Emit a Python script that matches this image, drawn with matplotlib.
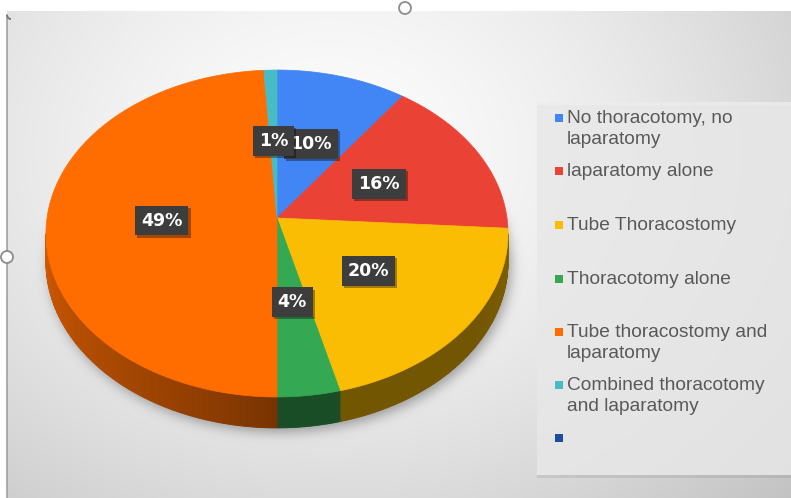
import numpy as np
import matplotlib
matplotlib.use("Agg")
import matplotlib.pyplot as plt
from matplotlib.patches import Polygon, Rectangle, Circle, Arc
from matplotlib.collections import PolyCollection
from matplotlib.path import Path
from matplotlib.colors import to_rgb
import matplotlib.patheffects as pe

# ---- data -------------------------------------------------------------
categories = [
    "No thoracotomy, no\nlaparatomy",
    "laparatomy alone",
    "Tube Thoracostomy",
    "Thoracotomy alone",
    "Tube thoracostomy and\nlaparatomy",
    "Combined thoracotomy\nand laparatomy",
    "",
]
shares = [10, 16, 20, 4, 49, 1, 0]
colors = ["#4285F4", "#EA4335", "#FBBC04", "#34A853", "#FF6D01", "#46BDC6", "#1B4C9E"]

# ---- canvas (pixel coordinates, y downwards) ---------------------------
W, H = 791, 498
fig = plt.figure(figsize=(W / 100, H / 100), dpi=100)
ax = fig.add_axes([0, 0, 1, 1])
ax.set_xlim(0, W)
ax.set_ylim(H, 0)
ax.axis("off")

# chart area with a soft radial gradient
X0, Y0 = 7, 11
yy, xx = np.mgrid[0:H, 0:W] + 0.5
dist = np.sqrt(((xx - 330) / 520) ** 2 + ((yy - 150) / 420) ** 2)
lum = 0.99 - 0.17 * np.clip(dist, 0, 1.25) ** 1.5
bg = np.dstack([lum, lum, lum])
bg[yy < Y0] = 1.0
bg[xx < X0] = 1.0
ax.imshow(bg, extent=(0, W, H, 0), zorder=0, interpolation="bilinear")
ax.plot([X0, X0], [Y0 + 4, H], color="#a0a0a0", lw=1.2, zorder=1)
ax.add_patch(Arc((X0 + 4, Y0 + 4), 8, 8, theta1=90, theta2=180,
                 color="#7a7a7a", lw=1.4, zorder=1))

# ---- 3-D pie geometry ------------------------------------------------
CX, CY = 277, 218          # apex of the slices on the top face
RX, RY, K = 230, 162, 0.0948
DEPTH = 28


def project(r, theta):
    """Map polar coords (theta clockwise from 12 o'clock) onto the tilted top face."""
    u = r * np.sin(theta)
    v = -r * np.cos(theta)
    w = 1 - K * v
    return CX + RX * u / w, CY + RY * v / w


def side_depth(theta):
    v = -np.cos(theta)
    return DEPTH / (1 - K * v)


values = np.array(shares, dtype=float)
fractions = values / values.sum()
edges = np.concatenate([[0], np.cumsum(fractions)]) * 2 * np.pi

# visible part of the outer wall: between extreme left and right points
tt = np.linspace(0, 2 * np.pi, 7201)
px, _ = project(1.0, tt)
t_right = tt[np.argmax(px)]
t_left = tt[np.argmin(px)]

# soft drop shadow below the pie
sx, sy = project(1.0, tt)
sy = sy + side_depth(tt) + 4
sx = sx + 3
mask = Path(np.column_stack([sx, sy])).contains_points(
    np.column_stack([xx.ravel(), yy.ravel()])).reshape(H, W).astype(float)
sig = 6.0
kx = np.arange(-20, 21)
kern = np.exp(-0.5 * (kx / sig) ** 2)
kern /= kern.sum()
blur = np.apply_along_axis(lambda r: np.convolve(r, kern, mode="same"), 1, mask)
blur = np.apply_along_axis(lambda c: np.convolve(c, kern, mode="same"), 0, blur)
shadow = np.zeros((H, W, 4))
shadow[..., :3] = 0.35
shadow[..., 3] = 0.55 * blur
ax.imshow(shadow, extent=(0, W, H, 0), zorder=2, interpolation="bilinear")


def wall_shade(theta_deg):
    f = 0.46 + 0.36 * np.clip((theta_deg - 180) / 85, 0, 1) ** 0.8
    f += 0.05 * np.clip((125 - theta_deg) / 30, 0, 1)
    return f


# outer wall, drawn as thin strips so the lighting can vary
quads, qcolors = [], []
for i, c in enumerate(colors):
    a, b = edges[i], edges[i + 1]
    lo, hi = max(a, t_right), min(b, t_left)
    if hi <= lo:
        continue
    n = max(2, int(np.degrees(hi - lo) / 0.5))
    ts = np.linspace(lo, hi, n + 1)
    base = np.array(to_rgb(c))
    for t1, t2 in zip(ts[:-1], ts[1:]):
        x1, y1 = project(1.0, t1)
        x2, y2 = project(1.0, t2)
        quads.append([(x1, y1), (x2, y2),
                      (x2, y2 + side_depth(t2)), (x1, y1 + side_depth(t1))])
        qcolors.append(np.clip(base * wall_shade(np.degrees(0.5 * (t1 + t2))), 0, 1))
ax.add_collection(PolyCollection(quads, facecolors=qcolors, edgecolors=qcolors,
                                 linewidths=0.6, zorder=3))

# top face slices
for i, c in enumerate(colors):
    a, b = edges[i], edges[i + 1]
    if b - a <= 0:
        continue
    ts = np.linspace(a, b, max(3, int(np.degrees(b - a)) + 2))
    ex, ey = project(1.0, ts)
    pts = np.column_stack([np.r_[CX, ex], np.r_[CY, ey]])
    ax.add_patch(Polygon(pts, closed=True, fc=c, ec=c, lw=0.5, zorder=4))

# data labels
for i, v in enumerate(shares):
    if v <= 0:
        continue
    mid = 0.5 * (edges[i] + edges[i + 1])
    lx, ly = project(0.5, mid)
    t = ax.text(lx, ly, f"{v}%", ha="center", va="center", color="white",
                fontsize=12.5, fontweight="bold", family="DejaVu Sans", zorder=6 + i,
                bbox=dict(boxstyle="square,pad=0.34", fc="#3d3d3d", ec="none"))
    t.get_bbox_patch().set_path_effects(
        [pe.SimplePatchShadow(offset=(1.5, -1.5), shadow_rgbFace="black", alpha=0.35),
         pe.Normal()])

# ---- legend -----------------------------------------------------------
leg = Rectangle((537, 102), 260, 373, fc="#ededed", ec="none", alpha=0.8, zorder=5)
leg.set_path_effects([pe.SimplePatchShadow(offset=(0, -2), alpha=0.12), pe.Normal()])
ax.add_patch(leg)

entry_y = [118, 171, 225, 279, 332, 385, 438]
for name, c, y in zip(categories, colors, entry_y):
    ax.add_patch(Rectangle((555, y - 4), 8, 8, fc=c, ec="none", zorder=6))
    for j, line in enumerate(name.split("\n")):
        if not line:
            continue
        ax.text(567, y + 21.5 * j, line, ha="left", va="center", fontsize=13.8,
                family="Liberation Sans", color="#595959", zorder=6)

# selection handles on the chart frame
for hx, hy in [(405, 8), (7, 257)]:
    ax.add_patch(Circle((hx, hy), 6, fc="white", ec="#8c8c8c", lw=1.3, zorder=10))

fig.savefig("out.png", dpi=100)
